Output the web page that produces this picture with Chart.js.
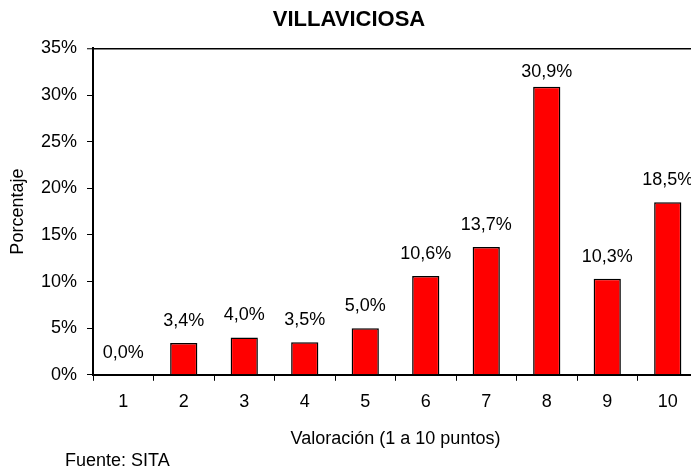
<!DOCTYPE html>
<html>
<head>
<meta charset="utf-8">
<script src="https://cdn.jsdelivr.net/npm/chart.js@4"></script>
<style>
  html, body { margin: 0; padding: 0; background: #fff; overflow: hidden; }
</style>
</head>
<body>
<canvas id="valoracionChart" width="710" height="470"></canvas>
<script>
const categories = ['1', '2', '3', '4', '5', '6', '7', '8', '9', '10'];
const percentages = [0.0, 3.4, 4.0, 3.5, 5.0, 10.6, 13.7, 30.9, 10.3, 18.5];
const yTicks = [0, 5, 10, 15, 20, 25, 30, 35];

Chart.defaults.font.family = '"Liberation Sans", Arial, sans-serif';
Chart.defaults.color = '#000';

const fmt = (v) => v.toFixed(1).replace('.', ',') + '%';

// labels above the bars, kept inside the plot like Excel does
const valueLabels = {
    id: 'valueLabels',
    afterDatasetsDraw(chart) {
        const ctx = chart.ctx;
        const meta = chart.getDatasetMeta(0);
        ctx.save();
        ctx.font = '18px "Liberation Sans", Arial, sans-serif';
        ctx.fillStyle = '#000';
        ctx.textAlign = 'center';
        ctx.textBaseline = 'middle';
        meta.data.forEach((bar, i) => {
            const y = Math.max(bar.y - 22, chart.chartArea.top + 24);
            ctx.fillText(fmt(percentages[i]), bar.x, y);
        });
        ctx.restore();
    }
};

const sourceNote = {
    id: 'sourceNote',
    afterDraw(chart) {
        const ctx = chart.ctx;
        ctx.save();
        ctx.font = '18px "Liberation Sans", Arial, sans-serif';
        ctx.fillStyle = '#000';
        ctx.textAlign = 'left';
        ctx.textBaseline = 'middle';
        ctx.fillText('Fuente: SITA', 65, 461);
        ctx.restore();
    }
};

const data = {
    labels: categories,
    datasets: [{
        data: percentages,
        backgroundColor: '#FF0000',
        borderColor: '#000',
        borderWidth: 1.5,
        categoryPercentage: 1,
        barPercentage: 0.45,
    }]
};

const chart = new Chart(document.getElementById('valoracionChart'), {
    type: 'bar',
    data: data,
    plugins: [valueLabels, sourceNote],
    options: {
        responsive: false,
        animation: false,
        layout: { padding: { left: 0, right: 12, top: 0, bottom: 16 } },
        plugins: {
            legend: { display: false },
            tooltip: { enabled: false },
            title: {
                display: true,
                text: 'VILLAVICIOSA',
                font: { size: 22, weight: 'bold' },
                color: '#000',
                padding: { top: 7, bottom: 15 },
            },
        },
        scales: {
            x: {
                grid: {
                    offset: true,
                    drawOnChartArea: false,
                    tickLength: 6,
                    tickColor: '#000',
                    tickWidth: 1,
                },
                border: { display: true, color: '#000', width: 2 },
                ticks: { font: { size: 18 }, padding: 10, color: '#000' },
                title: {
                    display: true,
                    text: 'Valoración (1 a 10 puntos)',
                    font: { size: 18 },
                    color: '#000',
                    padding: { top: 6, bottom: 4 },
                },
            },
            y: {
                min: 0,
                max: 35,
                afterFit: (scale) => { scale.width = 93; },
                afterBuildTicks: (scale) => { scale.ticks = yTicks.map(v => ({ value: v })); },
                grid: {
                    drawOnChartArea: true,
                    color: (c) => c.tick && c.tick.value === 35 ? '#000' : 'rgba(0,0,0,0)',
                    lineWidth: (c) => c.tick && c.tick.value === 35 ? 1.5 : 1,
                    tickLength: 6,
                    tickColor: '#000',
                    tickWidth: 1,
                },
                border: { display: true, color: '#000', width: 2 },
                ticks: {
                    font: { size: 18 },
                    padding: 10,
                    color: '#000',
                    callback: (v) => v + '%',
                },
                title: {
                    display: true,
                    text: 'Porcentaje',
                    font: { size: 18 },
                    color: '#000',
                    padding: { top: 7, bottom: 0 },
                },
            },
        },
    },
});
</script>
</body>
</html>
